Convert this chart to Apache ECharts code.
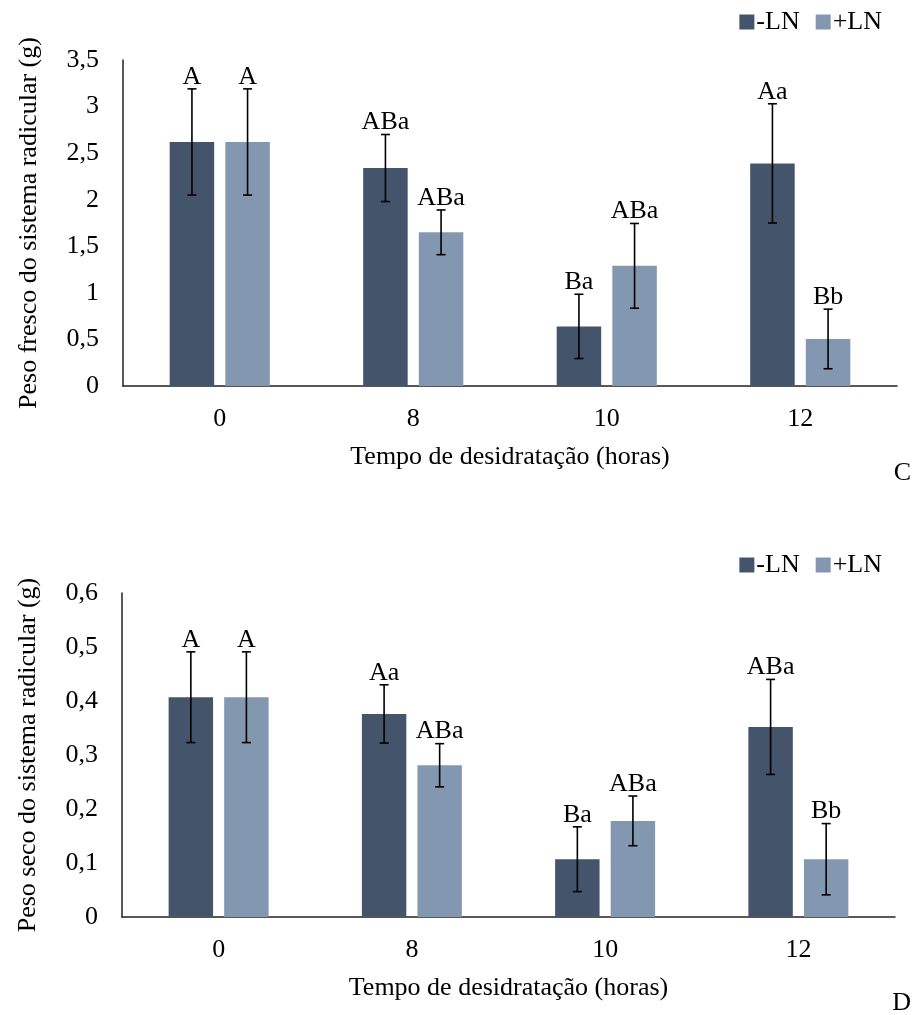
<!DOCTYPE html>
<html><head><meta charset="utf-8">
<script src="https://cdn.jsdelivr.net/npm/echarts@6/dist/echarts.min.js"></script>
<style>html,body{margin:0;padding:0;background:#fff}#c{width:913px;height:1015px}</style>
</head><body><div id="c"></div>
<script>
const categories = ['0', '8', '10', '12'];
const seriesNames = ['-LN', '+LN'];

const freshMinus = [2.62, 2.34, 0.64, 2.39];
const freshMinusErr = [0.57, 0.36, 0.345, 0.64];
const freshMinusLabels = ['A', 'ABa', 'Ba', 'Aa'];
const freshPlus = [2.62, 1.65, 1.29, 0.505];
const freshPlusErr = [0.57, 0.24, 0.455, 0.32];
const freshPlusLabels = ['A', 'ABa', 'ABa', 'Bb'];

const dryMinus = [0.407, 0.376, 0.107, 0.352];
const dryMinusErr = [0.084, 0.054, 0.06, 0.088];
const dryMinusLabels = ['A', 'Aa', 'Ba', 'ABa'];
const dryPlus = [0.407, 0.281, 0.178, 0.107];
const dryPlusErr = [0.084, 0.04, 0.046, 0.066];
const dryPlusLabels = ['A', 'ABa', 'ABa', 'Bb'];

const freshTicks = { min: 0, max: 3.5, interval: 0.5 };
const dryTicks = { min: 0, max: 0.6, interval: 0.1 };

const COLORS = ['#44546A', '#8497B0'];
const FONT = '"Liberation Serif", "Times New Roman", serif';
const FS = 26;
const BAR_W = 0.23, BAR_GAP = 0.25;

const fmt = v => String(+v.toFixed(2)).replace('.', ',');

function errSeries(name, idx, vals, errs, labels, axisIdx) {
  const data = vals.map((v, i) => [i, v, errs[i], labels[i]]);
  return {
    type: 'custom', name: name, xAxisIndex: axisIdx, yAxisIndex: axisIdx, z: 10,
    silent: true,
    data: data,
    renderItem: function (params, api) {
      const i = api.value(0), v = api.value(1), e = api.value(2);
      const band = api.size([1, 0])[0];
      const off = band * BAR_W * (1 + BAR_GAP) / 2 * (idx === 0 ? -1 : 1);
      const c = api.coord([i, v]);
      const x = c[0] + off;
      const top = api.coord([i, v + e])[1];
      const bot = api.coord([i, v - e])[1];
      const cap = 4.5;
      const st = { stroke: '#000', lineWidth: 1.6 };
      return { type: 'group', children: [
        { type: 'line', shape: { x1: x, y1: top, x2: x, y2: bot }, style: st },
        { type: 'line', shape: { x1: x - cap, y1: top, x2: x + cap, y2: top }, style: st },
        { type: 'line', shape: { x1: x - cap, y1: bot, x2: x + cap, y2: bot }, style: st },
        { type: 'text', x: x, y: top + 1, style: { text: data[params.dataIndex][3], font: FS + 'px ' + FONT, fill: '#000', textAlign: 'center', textVerticalAlign: 'bottom' } }
      ]};
    }
  };
}

function barSeries(name, idx, vals, axisIdx) {
  return {
    type: 'bar', name: name, xAxisIndex: axisIdx, yAxisIndex: axisIdx,
    data: vals, barWidth: (BAR_W * 100) + '%', barGap: (BAR_GAP * 100) + '%',
    itemStyle: { color: COLORS[idx] }, emphasis: { disabled: true }
  };
}

function xAx(gi) {
  return {
    type: 'category', gridIndex: gi, data: categories,
    name: 'Tempo de desidratação (horas)', nameLocation: 'middle', nameGap: 58,
    nameTextStyle: { fontFamily: FONT, fontSize: FS, color: '#000' },
    axisLine: { lineStyle: { color: '#222', width: 1.5 } },
    axisTick: { show: false },
    axisLabel: { fontFamily: FONT, fontSize: FS, color: '#000', margin: 20 }
  };
}
function yAx(gi, name, t) {
  return {
    type: 'value', gridIndex: gi, min: t.min, max: t.max, interval: t.interval,
    name: name, nameLocation: 'middle', nameGap: 81,
    nameTextStyle: { fontFamily: FONT, fontSize: FS, color: '#000' },
    axisLine: { show: true, lineStyle: { color: '#222', width: 1.5 } },
    axisTick: { show: false }, splitLine: { show: false },
    axisLabel: { fontFamily: FONT, fontSize: FS, color: '#000', margin: 24, formatter: fmt }
  };
}
function legend(top) {
  return {
    top: top, right: 26, itemWidth: 15, itemHeight: 15, itemGap: 16,
    icon: 'rect', data: seriesNames,
    textStyle: { fontFamily: FONT, fontSize: FS, color: '#000', padding: [0, 0, 0, -3] }
  };
}

const chart = echarts.init(document.getElementById('c'), null, { renderer: 'canvas' });
chart.setOption({
  animation: false,
  backgroundColor: '#fff',
  legend: [legend(4), legend(547)],
  grid: [
    { left: 123, right: 16, top: 60, bottom: 629 },
    { left: 122, right: 18, top: 593, bottom: 98 }
  ],
  xAxis: [xAx(0), xAx(1)],
  yAxis: [
    yAx(0, 'Peso fresco do sistema radicular (g)', freshTicks),
    yAx(1, 'Peso seco do sistema radicular (g)', dryTicks)
  ],
  series: [
    barSeries(seriesNames[0], 0, freshMinus, 0),
    barSeries(seriesNames[1], 1, freshPlus, 0),
    errSeries(seriesNames[0], 0, freshMinus, freshMinusErr, freshMinusLabels, 0),
    errSeries(seriesNames[1], 1, freshPlus, freshPlusErr, freshPlusLabels, 0),
    barSeries(seriesNames[0], 0, dryMinus, 1),
    barSeries(seriesNames[1], 1, dryPlus, 1),
    errSeries(seriesNames[0], 0, dryMinus, dryMinusErr, dryMinusLabels, 1),
    errSeries(seriesNames[1], 1, dryPlus, dryPlusErr, dryPlusLabels, 1)
  ],
  graphic: [
    { type: 'text', right: 2, top: 460, style: { text: 'C', font: FS + 'px ' + FONT, fill: '#000' } },
    { type: 'text', right: 2, top: 990, style: { text: 'D', font: FS + 'px ' + FONT, fill: '#000' } }
  ]
});
</script></body></html>
